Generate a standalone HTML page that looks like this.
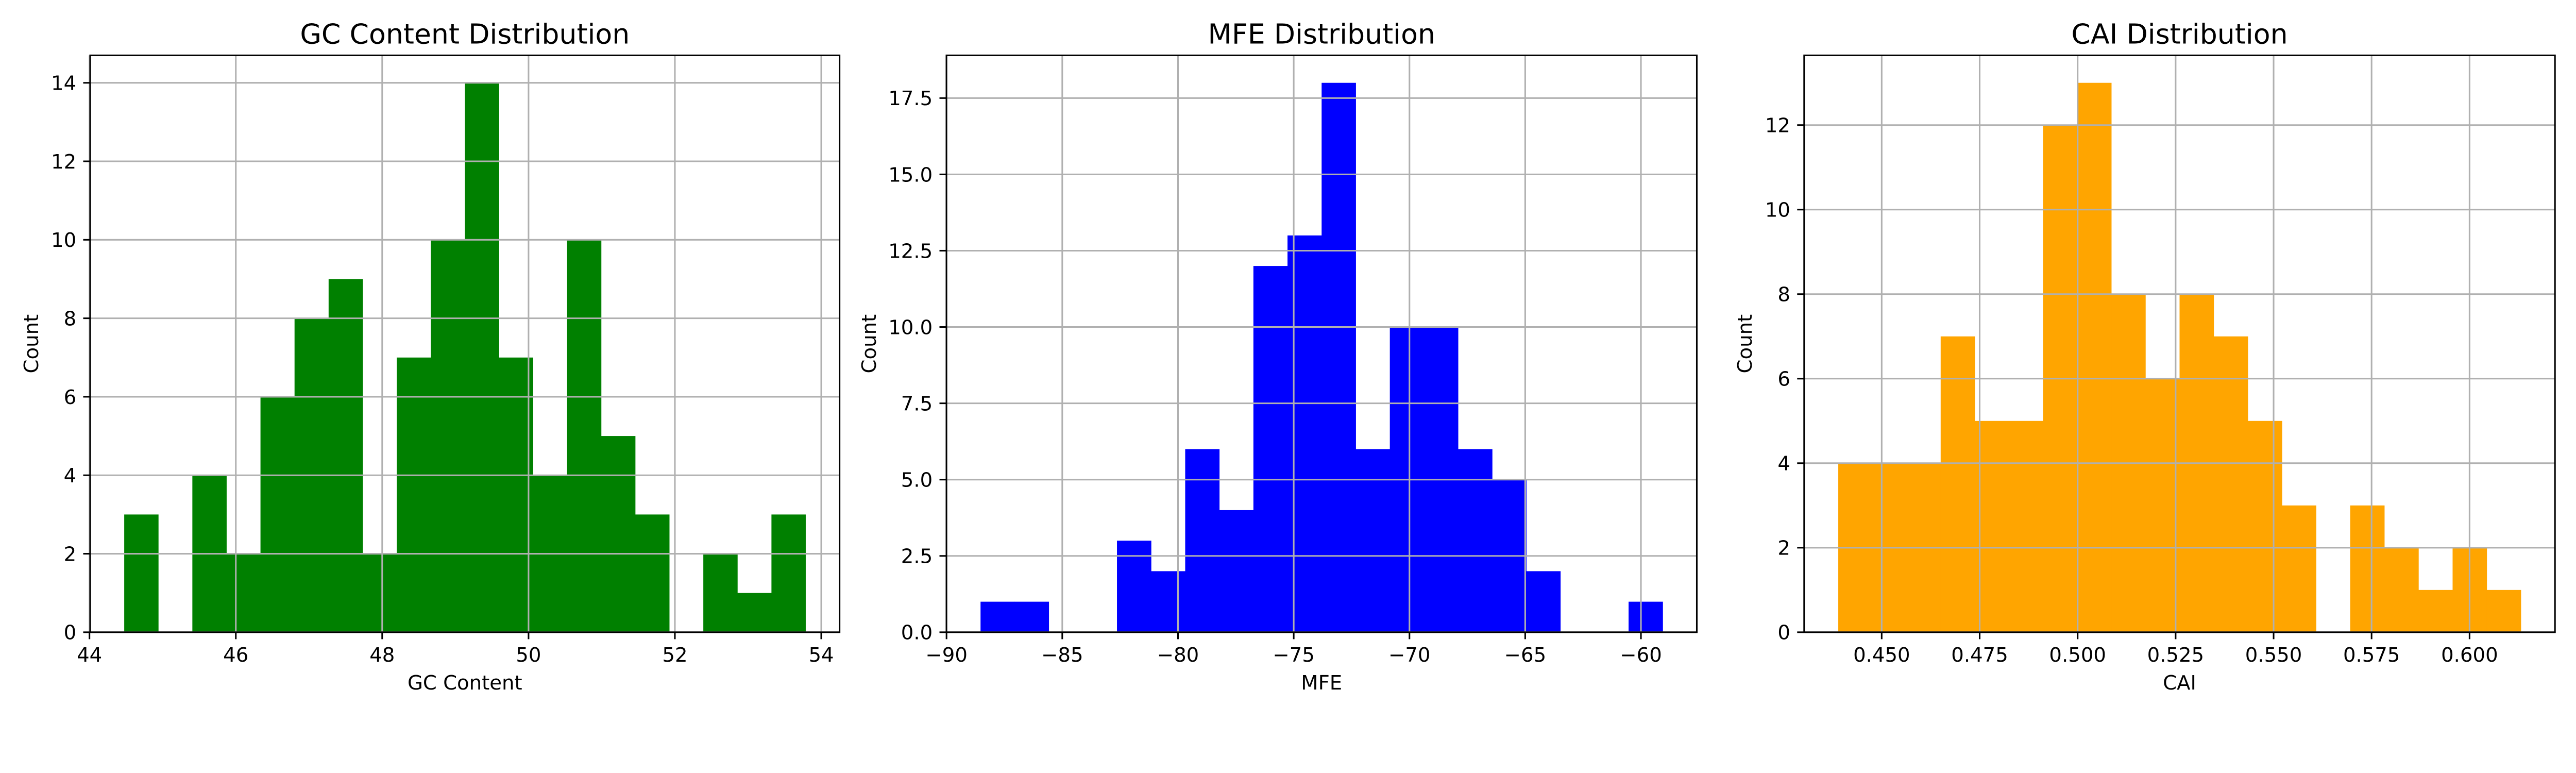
<!DOCTYPE html>
<html><head><meta charset="utf-8">
<style>
html,body{margin:0;padding:0;background:#fff;overflow:hidden;}
svg{display:block;position:absolute;left:0;top:0;width:100vw;height:calc(100vw * 1500 / 5400);font-family:"DejaVu Sans","Liberation Sans",sans-serif;}
</style></head><body>
<svg id="fig" viewBox="0 0 5400 1500" preserveAspectRatio="xMinYMin meet" xmlns="http://www.w3.org/2000/svg">
<rect width="5400" height="1500" fill="#fff"/>
</svg>
<script>
const gcBinStart = 44.475, gcBinWidth = 0.4655;
const gcCounts = [3,0,4,2,6,8,9,2,7,10,14,7,4,10,5,3,0,2,1,3];
const gcXTicks = [44,46,48,50,52,54];
const gcYTicks = [0,2,4,6,8,10,12,14];

const mfeBinStart = -88.53, mfeBinWidth = 1.4735;
const mfeCounts = [1,1,0,0,3,2,6,4,12,13,18,6,10,10,6,5,2,0,0,1];
const mfeXTicks = [-90,-85,-80,-75,-70,-65,-60];
const mfeYTicks = [0,2.5,5,7.5,10,12.5,15,17.5];

const caiBinStart = 0.43892, caiBinWidth = 0.0087085;
const caiCounts = [4,4,4,7,5,5,12,13,8,6,8,7,5,3,0,3,2,1,2,1];
const caiXTicks = [0.450,0.475,0.500,0.525,0.550,0.575,0.600];
const caiYTicks = [0,2,4,6,8,10,12];

const NS = "http://www.w3.org/2000/svg";
const svg = document.getElementById('fig');
function mk(tag, attrs, parent){
  const e = document.createElementNS(NS, tag);
  for (const k in attrs) e.setAttribute(k, attrs[k]);
  (parent||svg).appendChild(e);
  return e;
}
function fmtMinus(s){ return s.replace('-', '\u2212'); }

function panel(o){
  const top = 116, bot = 1325, L = o.left, R = o.right;
  const n = o.counts.length;
  const dmin = o.start, dmax = o.start + n*o.width, rng = dmax - dmin;
  const xmin = dmin - 0.05*rng, xmax = dmax + 0.05*rng;
  const ymax = Math.max(...o.counts) * 1.05;
  const xs = v => L + (v - xmin) / (xmax - xmin) * (R - L);
  const ys = v => bot - v / ymax * (bot - top);
  const g = mk('g', {});
  
  
  o.counts.forEach((c, i) => {
    if (c <= 0) return;
    const x0 = xs(dmin + i*o.width), x1 = xs(dmin + (i+1)*o.width);
    const r = mk('rect', {x:x0, y:ys(c), width:x1-x0+0.5, height:ys(0)-ys(c), fill:o.color}, g);
    
    
  });
  o.xticks.forEach(t => {
    const x = xs(t);
    const l = mk('line', {x1:x, x2:x, y1:top, y2:bot, stroke:'#b0b0b0', 'stroke-width':3.3}, g);
    
    
  });
  o.yticks.forEach(t => {
    const y = ys(t);
    const l = mk('line', {x1:L, x2:R, y1:y, y2:y, stroke:'#b0b0b0', 'stroke-width':3.3}, g);
    
    
  });
  const sp = mk('rect', {x:L, y:top, width:R-L, height:bot-top, fill:'none', stroke:'#000', 'stroke-width':3.3}, g);
  
  
  o.xticks.forEach(t => {
    const x = xs(t);
    mk('line', {x1:x, x2:x, y1:bot, y2:bot+14.6, stroke:'#000', 'stroke-width':3.3}, g);
    const tx = mk('text', {x:x, y:1387, 'font-size':41.7, 'text-anchor':'middle', fill:'#000'}, g);
    tx.textContent = fmtMinus(o.xfmt(t));
    
    
  });
  o.yticks.forEach(t => {
    const y = ys(t);
    mk('line', {x1:L-14.6, x2:L, y1:y, y2:y, stroke:'#000', 'stroke-width':3.3}, g);
    const tx = mk('text', {x:L-29, y:y+15, 'font-size':41.7, 'text-anchor':'end', fill:'#000'}, g);
    tx.textContent = o.yfmt(t);
    
    
  });
  const title = mk('text', {x:(L+R)/2, y:91, 'font-size':58, 'text-anchor':'middle', fill:'#000'}, g);
  title.textContent = o.title;
  
  
  const xl = mk('text', {x:(L+R)/2, y:1445, 'font-size':41.7, 'text-anchor':'middle', fill:'#000'}, g);
  xl.textContent = o.xlabel;
  
  
  const cy = (top+bot)/2;
  const yl = mk('text', {x:o.ylabelX, y:cy, 'font-size':41.7, 'text-anchor':'middle', fill:'#000', transform:'rotate(-90 '+o.ylabelX+' '+cy+')'}, g);
  yl.textContent = 'Count';
  
  
}

panel({name:'gc', left:189, right:1760, start:gcBinStart, width:gcBinWidth, counts:gcCounts,
  xticks:gcXTicks, yticks:gcYTicks, color:'#008000', title:'GC Content Distribution', xlabel:'GC Content',
  xfmt:t=>String(t), yfmt:t=>String(t), ylabelX:80});
panel({name:'mfe', left:1984, right:3557, start:mfeBinStart, width:mfeBinWidth, counts:mfeCounts,
  xticks:mfeXTicks, yticks:mfeYTicks, color:'#0000ff', title:'MFE Distribution', xlabel:'MFE',
  xfmt:t=>String(t), yfmt:t=>t.toFixed(1), ylabelX:1836});
panel({name:'cai', left:3782, right:5356, start:caiBinStart, width:caiBinWidth, counts:caiCounts,
  xticks:caiXTicks, yticks:caiYTicks, color:'#ffa500', title:'CAI Distribution', xlabel:'CAI',
  xfmt:t=>t.toFixed(3), yfmt:t=>String(t), ylabelX:3672});
</script>
</body></html>
